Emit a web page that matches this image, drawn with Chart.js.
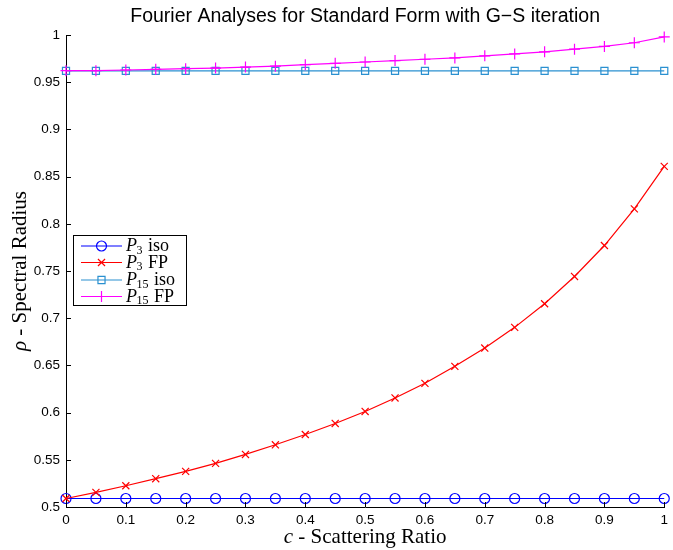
<!DOCTYPE html>
<html>
<head>
<meta charset="utf-8">
<script src="https://cdn.jsdelivr.net/npm/chart.js@4.4.1/dist/chart.umd.min.js"></script>
<style>
    html, body { margin: 0; padding: 0; background: #fff; }
</style>
</head>
<body>
<canvas id="spectralChart" width="673" height="550"></canvas>
<script>
// c - scattering ratio
const scatteringRatio = [0, 0.05, 0.1, 0.15, 0.2, 0.25, 0.3, 0.35, 0.4, 0.45, 0.5,
    0.55, 0.6, 0.65, 0.7, 0.75, 0.8, 0.85, 0.9, 0.95, 1];

// spectral radius per series
const p3Iso = [0.509, 0.509, 0.509, 0.509, 0.509, 0.509, 0.509, 0.509, 0.509, 0.509, 0.509,
    0.509, 0.509, 0.509, 0.509, 0.509, 0.509, 0.509, 0.509, 0.509, 0.509];
const p3Fp = [0.509, 0.5155, 0.5225, 0.530, 0.5377, 0.5462, 0.5557, 0.5659, 0.5768, 0.5885, 0.6012,
    0.6155, 0.631, 0.649, 0.6684, 0.6903, 0.7153, 0.7442, 0.777, 0.8158, 0.8608];
const p15Iso = [0.962, 0.962, 0.962, 0.962, 0.962, 0.962, 0.962, 0.962, 0.962, 0.962, 0.962,
    0.962, 0.962, 0.962, 0.962, 0.962, 0.962, 0.962, 0.962, 0.962, 0.962];
const p15Fp = [0.9622, 0.9622, 0.9629, 0.9636, 0.9643, 0.965, 0.966, 0.967, 0.9686, 0.970, 0.9714,
    0.9729, 0.9743, 0.9757, 0.9779, 0.980, 0.9822, 0.985, 0.9879, 0.9918, 0.998];

// tick labels
const xTicks = [0, 0.1, 0.2, 0.3, 0.4, 0.5, 0.6, 0.7, 0.8, 0.9, 1];
const yTicks = [0.5, 0.55, 0.6, 0.65, 0.7, 0.75, 0.8, 0.85, 0.9, 0.95, 1];

const chartTitle = 'Fourier Analyses for Standard Form with G\u2212S iteration';

function toPoints(values) {
    return values.map((v, i) => ({ x: scatteringRatio[i], y: v }));
}

const seriesInfo = [
    { sub: '3', tail: ' iso', data: p3Iso, color: '#0000ff', style: 'circle', radius: 5, order: 4 },
    { sub: '3', tail: ' FP', data: p3Fp, color: '#ff0000', style: 'crossRot', radius: 5, order: 3 },
    { sub: '15', tail: ' iso', data: p15Iso, color: '#2a90d0', style: 'rect', radius: 5, order: 2 },
    { sub: '15', tail: ' FP', data: p15Fp, color: '#ff00ff', style: 'cross', radius: 5.5, order: 1 }
];

const SANS = '"Liberation Sans", Arial, sans-serif';
const SERIF = '"Liberation Serif", "Times New Roman", serif';

// title, axis labels, inward ticks and the legend box
const decorations = {
    id: 'decorations',
    afterDraw(chart) {
        const ctx = chart.ctx;
        const area = chart.chartArea;
        const xs = chart.scales.x;
        const ys = chart.scales.y;
        ctx.save();

        // inward tick marks (matlab style)
        ctx.strokeStyle = '#000';
        ctx.lineWidth = 1;
        ctx.beginPath();
        xTicks.forEach(t => {
            const px = Math.round(xs.getPixelForValue(t)) + 0.5;
            ctx.moveTo(px, area.bottom);
            ctx.lineTo(px, area.bottom - 5);
        });
        yTicks.forEach(t => {
            const py = Math.round(ys.getPixelForValue(t)) + 0.5;
            ctx.moveTo(area.left, py);
            ctx.lineTo(area.left + 5, py);
        });
        ctx.stroke();

        const midX = (area.left + area.right) / 2;

        // title
        ctx.fillStyle = '#000';
        ctx.font = '19.5px ' + SANS;
        ctx.textAlign = 'center';
        ctx.textBaseline = 'middle';
        ctx.fillText(chartTitle, midX, 17);

        // x label
        drawMixed(ctx, [['c', 'italic 21px ' + SERIF], [' - Scattering Ratio', '21px ' + SERIF]], midX, 537);

        // y label
        ctx.save();
        ctx.translate(20, (area.top + area.bottom) / 2);
        ctx.rotate(-Math.PI / 2);
        drawMixed(ctx, [['\u03c1', 'italic 21px ' + SERIF], [' - Spectral Radius', '21px ' + SERIF]], 0, 0);
        ctx.restore();

        // legend
        const box = { x: 73.5, y: 235.5, w: 113, h: 70 };
        ctx.fillStyle = '#fff';
        ctx.fillRect(box.x, box.y, box.w, box.h);
        ctx.strokeStyle = '#000';
        ctx.strokeRect(box.x, box.y, box.w, box.h);
        const rowY = [245.5, 262, 279.5, 296];
        seriesInfo.forEach((s, i) => {
            const y = rowY[i];
            ctx.strokeStyle = s.color;
            ctx.fillStyle = 'rgba(0,0,0,0)';
            ctx.lineWidth = 1.2;
            ctx.beginPath();
            ctx.moveTo(81, y + 0.5);
            ctx.lineTo(122, y + 0.5);
            ctx.stroke();
            Chart.helpers.drawPoint(ctx, {
                pointStyle: s.style, radius: s.radius, borderWidth: 1.2, rotation: 0
            }, 101.5, y + 0.5);
            ctx.fillStyle = '#000';
            ctx.textAlign = 'left';
            ctx.textBaseline = 'alphabetic';
            let x = 126;
            ctx.font = 'italic 18px ' + SERIF;
            ctx.fillText('P', x, y + 5.5);
            x += ctx.measureText('P').width - 0.5;
            ctx.font = '12px ' + SERIF;
            ctx.fillText(s.sub, x, y + 8);
            x += ctx.measureText(s.sub).width + 1;
            ctx.font = '18px ' + SERIF;
            ctx.fillText(s.tail, x, y + 5.5);
        });

        ctx.restore();
    }
};

function drawMixed(ctx, parts, cx, cy) {
    let total = 0;
    parts.forEach(p => { ctx.font = p[1]; total += ctx.measureText(p[0]).width; });
    let x = cx - total / 2;
    ctx.textAlign = 'left';
    ctx.textBaseline = 'middle';
    ctx.fillStyle = '#000';
    parts.forEach(p => {
        ctx.font = p[1];
        ctx.fillText(p[0], x, cy);
        x += ctx.measureText(p[0]).width;
    });
}

const tickFont = { family: SANS, size: 13.5 };

new Chart(document.getElementById('spectralChart'), {
    type: 'line',
    data: {
        datasets: seriesInfo.map(s => ({
            label: 'P' + s.sub + s.tail,
            data: toPoints(s.data),
            borderColor: s.color,
            backgroundColor: 'transparent',
            pointBorderColor: s.color,
            pointBackgroundColor: 'transparent',
            borderWidth: 1.2,
            pointBorderWidth: 1.2,
            pointStyle: s.style,
            pointRadius: s.radius,
            tension: 0,
            fill: false,
            clip: false,
            order: s.order
        }))
    },
    options: {
        responsive: false,
        animation: false,
        layout: { padding: { top: 35, left: 0, right: 0, bottom: 0 } },
        plugins: {
            legend: { display: false },
            title: { display: false },
            tooltip: { enabled: false }
        },
        scales: {
            x: {
                type: 'linear',
                min: 0,
                max: 1,
                afterFit: scale => { scale.height = 43; },
                afterBuildTicks: scale => { scale.ticks = xTicks.map(v => ({ value: v })); },
                grid: { display: false, drawTicks: false },
                border: { color: '#000', width: 1 },
                ticks: {
                    font: tickFont,
                    color: '#000',
                    padding: 5,
                    maxRotation: 0,
                    callback: v => String(+v.toFixed(2))
                }
            },
            y: {
                type: 'linear',
                min: 0.5,
                max: 1,
                afterFit: scale => { scale.width = 66; },
                afterBuildTicks: scale => { scale.ticks = yTicks.map(v => ({ value: v })); },
                grid: { display: false, drawTicks: false },
                border: { color: '#000', width: 1 },
                ticks: {
                    font: tickFont,
                    color: '#000',
                    padding: 6,
                    callback: v => String(+v.toFixed(2))
                }
            }
        }
    },
    plugins: [decorations]
});
</script>
</body>
</html>
